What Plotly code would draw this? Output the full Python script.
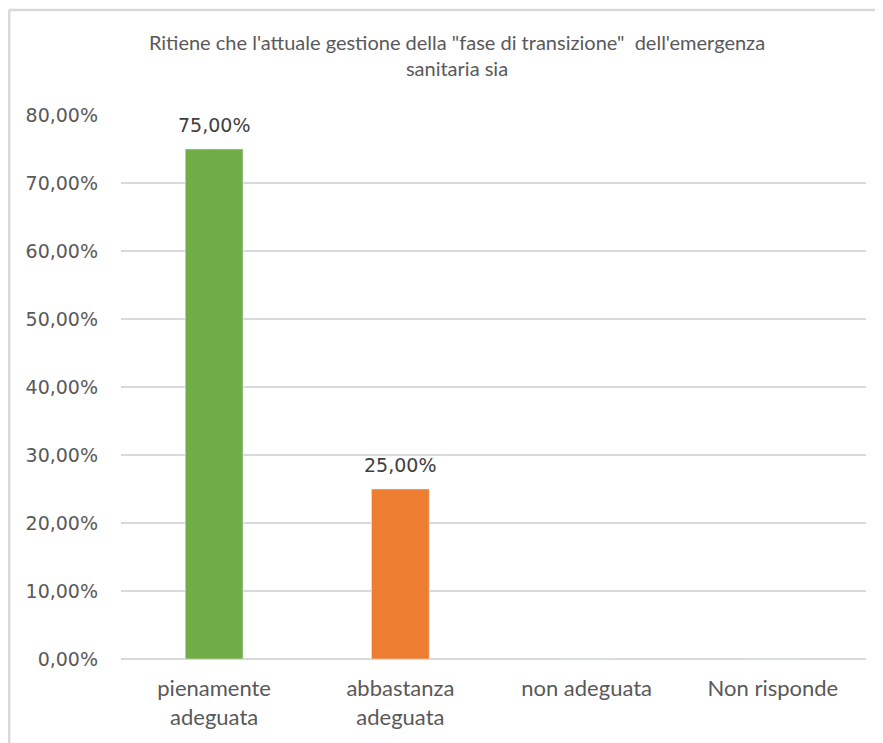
import plotly.graph_objects as go

categories = ["pienamente<br>adeguata", "abbastanza<br>adeguata", "non adeguata", "Non risponde"]
values = [75.0, 25.0, 0.0, 0.0]
value_labels = ["75,00%", "25,00%", "", ""]
bar_colors = ["#70AD47", "#ED7D31", "#5B9BD5", "#A5A5A5"]
tick_vals = [0, 10, 20, 30, 40, 50, 60, 70, 80]
tick_text = ["0,00%", "10,00%", "20,00%", "30,00%", "40,00%", "50,00%", "60,00%", "70,00%", "80,00%"]
title_text = "Ritiene che l'attuale gestione della \"fase di transizione\"  dell'emergenza<br>sanitaria sia"

# page body has an 8px margin; figure sized so it ends at the window edge
W, H = 875, 735
L, R, T, B = 113, 17, 107, 84

fig = go.Figure(go.Bar(
    x=categories, y=values, marker_color=bar_colors, width=0.31,
))

annotations = [
    dict(x=c, y=v, text=t, xref="x", yref="y", showarrow=False, yanchor="bottom", yshift=11,
         font=dict(family="DejaVu Sans", size=19, color="#404040"))
    for c, v, t in zip(categories, values, value_labels) if t
]

pw, ph = W - L - R, H - T - B
lx = (1.2 - L) / pw
ty = (H - B - 2) / ph

fig.update_layout(
    width=W, height=H,
    margin=dict(l=L, r=R, t=T, b=B),
    paper_bgcolor="white", plot_bgcolor="white",
    showlegend=False,
    annotations=annotations,
    title=dict(text=title_text, x=449 / W, xanchor="center", y=1 - 42 / H, yanchor="top",
               font=dict(family="Lato", size=20, color="#595959")),
    xaxis=dict(showgrid=False, showline=False, ticks="", ticklabelstandoff=14,
               tickfont=dict(family="Lato", size=22, color="#595959")),
    yaxis=dict(range=[0, 80], tickvals=tick_vals, ticktext=tick_text, showgrid=True,
               gridcolor="#D9D9D9", gridwidth=2, zeroline=True, zerolinecolor="#D9D9D9", zerolinewidth=2,
               showline=False, ticks="", ticklabelstandoff=22,
               tickfont=dict(family="DejaVu Sans", size=19, color="#595959")),
    shapes=[
        dict(type="line", xref="paper", yref="paper", x0=lx, x1=1.2, y0=ty, y1=ty,
             line=dict(color="#D9D9D9", width=2.5)),
        dict(type="line", xref="paper", yref="paper", x0=lx, x1=lx, y0=ty, y1=-0.3,
             line=dict(color="#D9D9D9", width=2.5)),
    ],
)
fig.write_html("out.html")
